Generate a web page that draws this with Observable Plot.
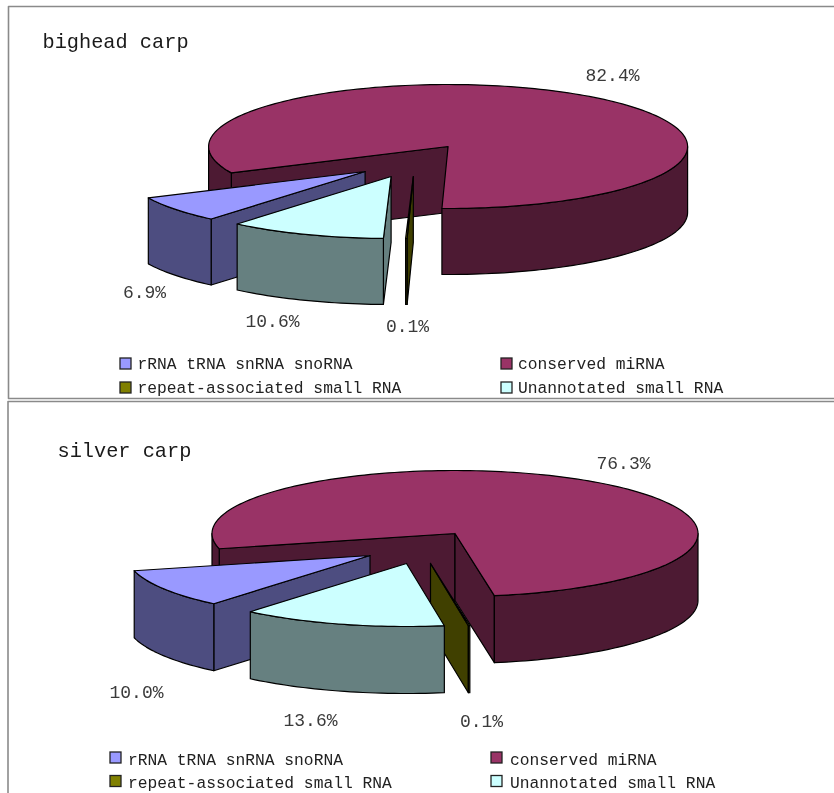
<!DOCTYPE html>
<html>
<head>
<meta charset="utf-8">
<script src="https://cdn.jsdelivr.net/npm/d3@7"></script>
<script src="https://cdn.jsdelivr.net/npm/@observablehq/plot@0.6"></script>
<style>
html,body{margin:0;padding:0;background:#fff}
svg{display:block;filter:blur(0.45px)}
</style>
</head>
<body>
<div id="chart"></div>
<script>
// ---- data ----
const categories = ["rRNA tRNA snRNA snoRNA", "conserved miRNA", "repeat-associated small RNA", "Unannotated small RNA"];
const bigheadValues = [6.9, 82.4, 0.1, 10.6];
const silverValues = [10.0, 76.3, 0.1, 13.6];
const panelTitles = ["bighead carp", "silver carp"];

// ---- styles ----
const topColors = ["#9999ff", "#993366", "#808000", "#ccffff"];
const sideColors = ["#4d4d80", "#4d1a33", "#404000", "#668080"];
const drawOrder = [1, 0, 2, 3];
const firstAngle = 220;
const fontFamily = "'Liberation Mono', monospace";

// ---- layout of each panel (pixels) ----
const panels = [
  {
    title: panelTitles[0], values: bigheadValues, titlePos: [42, 41],
    cx: 447.6, cy: 146, rx: 239.5, ry: 62, depth: 66,
    explode: [[-83, 25], [0, 0], [-34.8, 30], [-57, 30]],
    labels: [[144, 292], [612, 75], [407, 326], [272, 321]],
    frame: [8, 6, 840, 398],
    legendX: [120, 501], legendTextX: [137, 517.5], legendY: [363.5, 387.5], legendTextDy: 0
  },
  {
    title: panelTitles[1], values: silverValues, titlePos: [57, 450],
    cx: 454.5, cy: 533, rx: 243, ry: 63, depth: 67,
    explode: [[-85, 22], [0, 0], [-24.5, 30], [-48.5, 30]],
    labels: [[136, 692], [623, 463], [481, 721], [310, 720]],
    frame: [7.5, 401, 840, 800],
    legendX: [110, 491], legendTextX: [127.5, 509.5], legendY: [757.5, 781], legendTextDy: 1.5
  }
];

// ---- geometry derived from the values ----
const rad = d => d * Math.PI / 180;
const faces = [], frames = [], valueTexts = [], startTexts = [], swatches = [];
let faceId = 0;
function addFace(pts, fill) {
  const id = faceId++;
  [...pts, pts[0]].forEach(([x, y]) => faces.push({x, y, id, fill}));
}
panels.forEach((p, pi) => {
  let a = firstAngle;
  const slices = p.values.map((v, i) => {
    const s = {i, a0: a, a1: a + v * 3.6};
    a = s.a1;
    return s;
  });
  const arc = (t0, t1, ax, ay, dz) => {
    const n = Math.max(1, Math.ceil((t1 - t0) / 1.5));
    return d3.range(n + 1).map(k => {
      const t = rad(t0 + (t1 - t0) * k / n);
      return [ax + p.rx * Math.sin(t), ay - p.ry * Math.cos(t) + dz];
    });
  };
  drawOrder.forEach(i => {
    const s = slices[i];
    const ax = p.cx + p.explode[i][0], ay = p.cy + p.explode[i][1];
    // radial walls that face the viewer
    const wall = t => {
      const e = arc(t, t, ax, ay, 0)[0];
      addFace([[ax, ay], e, [e[0], e[1] + p.depth], [ax, ay + p.depth]], sideColors[i]);
    };
    if (Math.sin(rad(s.a0)) < 0) wall(s.a0);
    if (Math.sin(rad(s.a1)) > 0) wall(s.a1);
    // outer rim, only the part facing the viewer
    for (const k of [0, 1]) {
      const lo = Math.max(s.a0, 90 + 360 * k), hi = Math.min(s.a1, 270 + 360 * k);
      if (hi > lo) {
        addFace([...arc(lo, hi, ax, ay, 0), ...arc(lo, hi, ax, ay, p.depth).reverse()], sideColors[i]);
      }
    }
    // top
    addFace([[ax, ay], ...arc(s.a0, s.a1, ax, ay, 0)], topColors[i]);
    // value label
    valueTexts.push({x: p.labels[i][0], y: p.labels[i][1], t: p.values[i].toFixed(1) + "%"});
  });
  startTexts.push({x: p.titlePos[0], y: p.titlePos[1], t: p.title, size: 20.3, fill: "#1a1a1a"});
  const [l, t, r, b] = p.frame;
  [[l, t], [r, t], [r, b], [l, b], [l, t]].forEach(([x, y]) => frames.push({x, y, pi}));
  categories.forEach((c, i) => {
    const col = i % 2 === 0 ? 0 : 1, row = i < 2 ? 0 : 1;
    const yc = p.legendY[row];
    swatches.push({x1: p.legendX[col], x2: p.legendX[col] + 11, y1: yc - 5.5, y2: yc + 5.5, fill: topColors[i]});
    startTexts.push({x: p.legendTextX[col], y: yc + p.legendTextDy, t: c, size: 16.3, fill: "#222"});
  });
});

const chart = Plot.plot({
  width: 834, height: 793,
  margin: 0,
  x: {domain: [0, 834], range: [0, 834], axis: null},
  y: {domain: [0, 793], range: [0, 793], axis: null},
  style: {background: "#fff"},
  marks: [
    Plot.line(frames, {x: "x", y: "y", z: "pi", stroke: "#8a8a8a", strokeWidth: 1.6}),
    Plot.line(faces, {x: "x", y: "y", z: "id", fill: "fill", stroke: "#000", strokeWidth: 1.2, strokeLinejoin: "round"}),
    Plot.rect(swatches, {x1: "x1", x2: "x2", y1: "y1", y2: "y2", fill: "fill", stroke: "#222", strokeWidth: 1.3}),
    Plot.text(valueTexts, {x: "x", y: "y", text: "t", fontSize: 18, textAnchor: "middle", fill: "#3a3a3a", fontFamily, lineAnchor: "middle"}),
    Plot.text(startTexts, {x: "x", y: "y", text: "t", fontSize: "size", textAnchor: "start", fill: "fill", fontFamily, lineAnchor: "middle"})
  ]
});
document.getElementById("chart").appendChild(chart);
</script>
</body>
</html>
